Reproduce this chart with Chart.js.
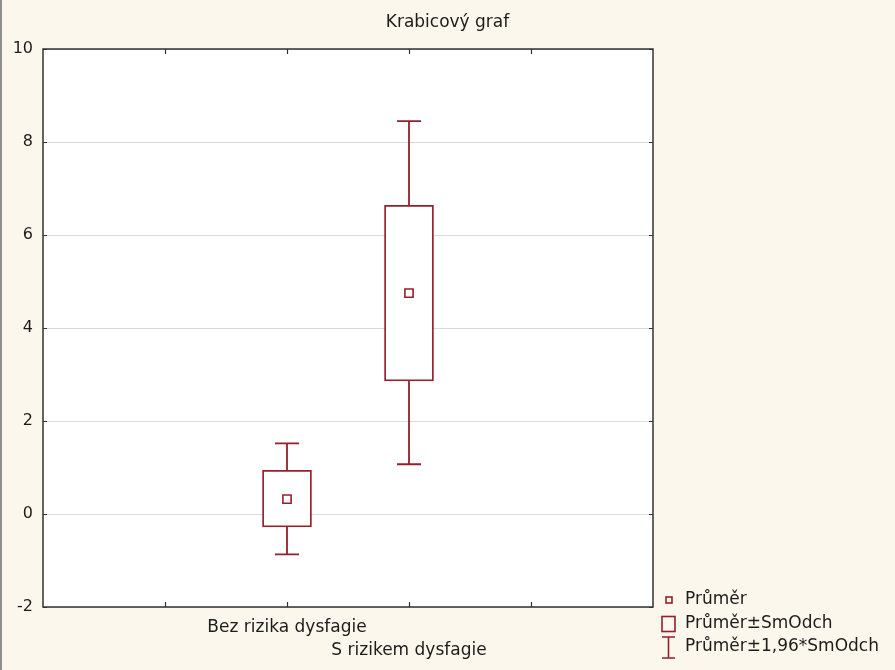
<!DOCTYPE html>
<html>
<head>
<meta charset="utf-8">
<script src="https://cdn.jsdelivr.net/npm/chart.js@4"></script>
<style>
  body { margin: 0; background: #fcf7ec; }
  #wrap { width: 895px; height: 670px; position: relative; }
</style>
</head>
<body>
<div id="wrap"><canvas id="boxChart"></canvas></div>
<script>
// values
const groups = ['Bez rizika dysfagie', 'S rizikem dysfagie'];
const groupPos = [2, 3];
const means = [0.32, 4.75];
const sdLow = [-0.28, 2.86];
const sdHigh = [0.94, 6.64];
const ciLow = [-0.87, 1.07];
const ciHigh = [1.52, 8.45];
const yTicks = [-2, 0, 2, 4, 6, 8, 10];
const xTickMarks = [1, 2, 3, 4];
const legendLabels = ['Průměr', 'Průměr±SmOdch', 'Průměr±1,96*SmOdch'];
const titleText = 'Krabicový graf';

const red = '#951f2b';
const textColor = '#1c1c1c';
const fontFamily = '"DejaVu Sans", Verdana, sans-serif';

const ctx = document.getElementById('boxChart').getContext('2d');

const framePlugin = {
    id: 'frame',
    beforeDraw(chart) {
        const c = chart.ctx;
        const a = chart.chartArea;
        c.save();
        c.fillStyle = '#fcf7ec';
        c.fillRect(0, 0, chart.width, chart.height);
        c.fillStyle = '#8c8c8c';
        c.fillRect(0, 0, 2, chart.height);
        c.fillStyle = '#fff';
        c.fillRect(a.left, a.top, a.right - a.left, a.bottom - a.top);
        c.restore();
    },
    beforeDatasetsDraw(chart) {
        // whiskers: mean ± 1,96*SD
        const c = chart.ctx;
        const xs = chart.scales.x, ys = chart.scales.y;
        c.save();
        c.strokeStyle = red;
        c.lineWidth = 1.8;
        groupPos.forEach((p, i) => {
            const x = Math.round(xs.getPixelForValue(p));
            const top = ys.getPixelForValue(ciHigh[i]);
            const bot = ys.getPixelForValue(ciLow[i]);
            c.beginPath();
            c.moveTo(x, top); c.lineTo(x, bot);
            c.moveTo(x - 12, top); c.lineTo(x + 12, top);
            c.moveTo(x - 12, bot); c.lineTo(x + 12, bot);
            c.stroke();
        });
        c.restore();
    },
    afterDraw(chart) {
        const c = chart.ctx;
        const a = chart.chartArea;
        const xs = chart.scales.x, ys = chart.scales.y;
        c.save();
        c.strokeStyle = '#333';
        c.lineWidth = 1.5;
        c.strokeRect(a.left, a.top, a.right - a.left, a.bottom - a.top);
        c.lineWidth = 1.2;
        c.beginPath();
        yTicks.forEach(v => {
            const y = Math.round(ys.getPixelForValue(v)) + 0.5;
            c.moveTo(a.left, y); c.lineTo(a.left + 4, y);
            c.moveTo(a.right, y); c.lineTo(a.right - 4, y);
        });
        xTickMarks.forEach(v => {
            const x = Math.round(xs.getPixelForValue(v)) + 0.5;
            c.moveTo(x, a.bottom); c.lineTo(x, a.bottom - 5);
            c.moveTo(x, a.top); c.lineTo(x, a.top + 5);
        });
        c.stroke();

        // title, centred on the whole window
        c.fillStyle = textColor;
        c.font = '17px ' + fontFamily;
        c.textAlign = 'center';
        c.textBaseline = 'middle';
        c.fillText(titleText, chart.width / 2, 23);

        // legend
        const lx = 662, ly = 600, step = 23.5;
        c.strokeStyle = red;
        c.lineWidth = 1.6;
        c.strokeRect(lx + 4, ly - 3, 6, 6);
        c.strokeRect(lx, ly + step - 7, 13, 15);
        const y3 = ly + step * 2;
        c.beginPath();
        c.moveTo(lx, y3 - 10); c.lineTo(lx + 13, y3 - 10);
        c.moveTo(lx + 6.5, y3 - 10); c.lineTo(lx + 6.5, y3 + 11);
        c.moveTo(lx, y3 + 11); c.lineTo(lx + 13, y3 + 11);
        c.stroke();
        c.textAlign = 'left';
        legendLabels.forEach((t, i) => c.fillText(t, 685, ly + step * i));
        c.restore();
    }
};

new Chart(ctx, {
    type: 'bar',
    data: {
        datasets: [{
            type: 'scatter',
            label: legendLabels[0],
            data: groupPos.map((p, i) => ({ x: p, y: means[i] })),
            pointStyle: 'rect',
            pointRadius: 5.8,
            borderColor: red,
            backgroundColor: '#fff',
            borderWidth: 1.6,
            order: 0
        }, {
            label: legendLabels[1],
            data: groupPos.map((p, i) => ({ x: p, y: [sdLow[i], sdHigh[i]] })),
            backgroundColor: '#fff',
            borderColor: red,
            borderWidth: 1.8,
            borderSkipped: false,
            barThickness: 49,
            grouped: false,
            order: 1
        }]
    },
    options: {
        responsive: true,
        maintainAspectRatio: false,
        animation: false,
        layout: { padding: { left: 0, right: 242, top: 49, bottom: 0 } },
        plugins: {
            legend: { display: false },
            tooltip: { enabled: false },
            title: { display: false }
        },
        scales: {
            x: {
                type: 'linear',
                min: 0,
                max: 5,
                offset: false,
                grid: { display: false, drawTicks: false },
                border: { display: false },
                afterFit: (scale) => { scale.height = 63; },
                ticks: {
                    stepSize: 1,
                    autoSkip: false,
                    maxRotation: 0,
                    minRotation: 0,
                    padding: 9,
                    color: textColor,
                    font: { family: fontFamily, size: 17, lineHeight: 1.35 },
                    callback: (v) => {
                        const i = groupPos.indexOf(v);
                        if (i === 0) return [groups[0], ''];
                        if (i === 1) return ['', groups[1]];
                        return '';
                    }
                }
            },
            y: {
                min: -2,
                max: 10,
                grid: { color: '#d9d9d9', lineWidth: 1, drawTicks: false },
                border: { display: false },
                afterFit: (scale) => { scale.width = 43; },
                ticks: {
                    stepSize: 2,
                    padding: 10,
                    color: textColor,
                    font: { family: fontFamily, size: 16 }
                }
            }
        }
    },
    plugins: [framePlugin]
});
</script>
</body>
</html>
